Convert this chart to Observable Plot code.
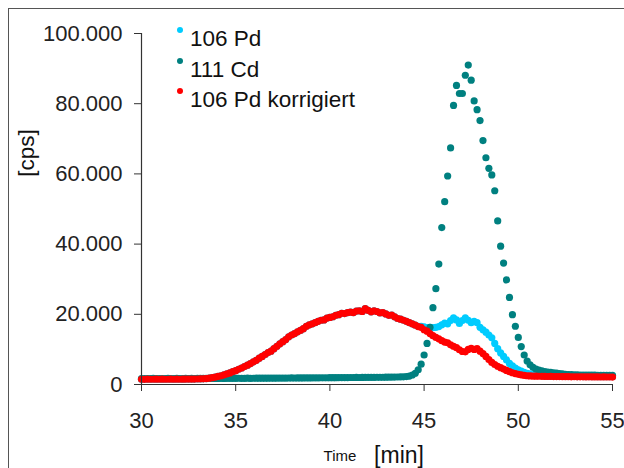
<!DOCTYPE html>
<html>
<head>
<meta charset="utf-8">
<script src="https://cdn.jsdelivr.net/npm/d3@7"></script>
<script src="https://cdn.jsdelivr.net/npm/@observablehq/plot@0.6"></script>
<style>
  body { margin: 0; background: #fff; }
  #wrap { position: relative; width: 624px; height: 468px; overflow: hidden; font-family: 'Liberation Sans', Arial, sans-serif; color: #111; }
  .lab { position: absolute; white-space: nowrap; transform: translate(-50%, -50%); }
  .leg { position: absolute; white-space: nowrap; font-size: 22.5px; transform: translateY(-50%); }
  .dot { position: absolute; width: 6px; height: 6px; border-radius: 50%; transform: translate(-50%, -50%); }
  #frame { position: absolute; left: 8px; top: 8px; width: 1000px; height: 1000px; border-left: 1.5px solid #555; border-top: 1.5px solid #555; }
</style>
</head>
<body>
<div id="wrap"></div>
<script>
// Sampling grid (minutes)
const tStart = 30;
const tStep = 0.15625;

// 106 Pd (raw)
const pd106 = [
1500,1480,1520,1500,1490,1510,1500,1520,1490,1500,
1510,1500,1530,1500,1520,1510,1540,1520,1550,1560,
1580,1620,1700,1800,1950,2100,2300,2500,2750,3000,
3300,3650,3950,4350,4700,5100,5500,5950,6450,6900,
7500,8000,8550,9100,9500,10200,10900,11600,12200,12800,
13600,14100,14500,15000,15400,15900,16600,17000,17300,17600,
18000,18300,18400,18900,19100,19300,19700,19900,20300,20200,
20500,20600,20500,20900,21000,20800,21600,21100,20700,21000,
20800,20400,20500,20100,19700,19800,19300,18800,18600,18300,
18000,17600,17300,16900,16600,16600,16400,16200,16300,16200,
16300,16500,17000,17500,17300,18200,19000,18400,17400,18200,
19000,18300,17600,18000,17600,16300,15600,14900,14100,13300,
11700,10200,9000,8000,7000,6000,5300,4700,4200,3800,
3450,3200,3000,2850,2700,2600,2500,2450,2400,2380,
2350,2330,2340,2300,2310,2290,2280,2300,2270,2280,
2260,2250,2270,2240,2250,2230,2240,2220,2230,2210,2220
];

// 111 Cd
const cd111 = [
1700,1710,1690,1700,1720,1700,1710,1690,1700,1720,
1710,1700,1720,1710,1700,1730,1710,1720,1700,1730,
1720,1740,1720,1730,1750,1730,1740,1760,1740,1750,
1770,1750,1760,1780,1760,1770,1790,1770,1780,1800,
1790,1810,1790,1800,1820,1810,1830,1820,1840,1830,
1850,1860,1850,1870,1860,1880,1890,1880,1900,1910,
1900,1920,1930,1920,1940,1950,1940,1960,1970,1980,
1970,1990,2000,2010,2000,2020,2030,2040,2030,2050,
2060,2070,2060,2080,2100,2090,2110,2130,2150,2200,
2250,2400,2700,3200,4200,5800,8400,11700,16300,21900,
27300,34300,44700,52100,59400,67400,79500,85200,82900,82900,
88100,91000,86700,80800,78300,75200,69500,64600,61600,59700,
55200,46600,39400,34600,29800,24800,19900,16600,13400,10800,
8400,6700,5600,4900,4400,4100,3900,3700,3550,3450,
3350,3250,3100,3000,2920,2850,2800,2760,2730,2700,
2690,2680,2670,2660,2650,2640,2630,2620,2610,2600,2600
];

// 106 Pd korrigiert
const pdKorr = [
1500,1480,1520,1500,1490,1510,1500,1520,1490,1500,
1510,1500,1530,1500,1520,1510,1540,1520,1550,1560,
1580,1620,1700,1800,1950,2100,2300,2500,2750,3000,
3300,3650,3950,4350,4700,5100,5500,5950,6450,6900,
7500,8000,8550,9100,9500,10200,10900,11600,12200,12800,
13600,14100,14500,15000,15400,15900,16600,17000,17300,17600,
18000,18300,18400,18900,19100,19300,19700,19900,20300,20200,
20500,20600,20500,20900,21000,20800,21600,21100,20700,21000,
20800,20400,20500,20100,19700,19800,19300,18800,18600,18300,
18000,17600,17300,16900,16500,16300,15600,15200,14500,13900,
13400,13000,12500,12100,11900,11300,10900,10500,9900,9400,
9300,10000,10300,10000,10200,9500,8800,8000,7100,6300,
5700,5200,4800,4400,4000,3650,3350,3100,2900,2750,
2600,2500,2450,2400,2380,2350,2320,2300,2280,2300,
2260,2250,2270,2230,2220,2240,2200,2210,2190,2200,
2180,2170,2190,2160,2150,2170,2140,2150,2130,2140,2120
];

const xTicks = [30, 35, 40, 45, 50, 55];
const yTicks = [0, 20000, 40000, 60000, 80000, 100000];
const seriesNames = ["106 Pd", "111 Cd", "106 Pd korrigiert"];
const seriesColors = ["#00CCFF", "#008080", "#FF0000"];

const rows = pd106.map((v, i) => ({
  t: tStart + i * tStep, pd: v, cd: cd111[i], korr: pdKorr[i]
}));

const fmt = d => d3.format(",")(d).replace(/,/g, ".");
const font = "'Liberation Sans', Arial, sans-serif";

const chart = Plot.plot({
  width: 624,
  height: 468,
  marginLeft: 141,
  marginRight: 12,
  marginTop: 33,
  marginBottom: 84,
  style: { fontFamily: font, fontSize: "22px", color: "#222", background: "transparent", overflow: "visible" },
  x: { domain: [30, 55] },
  y: { domain: [0, 100000] },
  marks: [
    Plot.dot(rows, { x: "t", y: "pd", r: 3.6, fill: seriesColors[0], stroke: "none" }),
    Plot.dot(rows, { x: "t", y: "cd", r: 3.6, fill: seriesColors[1], stroke: "none" }),
    Plot.dot(rows, { x: "t", y: "korr", r: 3.6, fill: seriesColors[2], stroke: "none" }),
    Plot.ruleX([30], { stroke: "#333", strokeWidth: 1.2 }),
    Plot.ruleY([0], { stroke: "#333", strokeWidth: 1.2 }),
    Plot.axisY({ ticks: yTicks, tickSize: 7, tickPadding: 12, tickFormat: fmt, label: null, fontSize: 22, stroke: "#333" }),
    Plot.axisX({ ticks: xTicks, tickSize: 7, tickPadding: 21, tickFormat: d => String(d), label: null, fontSize: 22, stroke: "#333" })
  ]
});

const wrap = document.getElementById("wrap");
const frame = document.createElement("div");
frame.id = "frame";
wrap.appendChild(frame);
chart.style.position = "absolute";
chart.style.left = "0px";
chart.style.top = "0px";
wrap.appendChild(chart);

function addLabel(text, x, y, size, rot) {
  const d = document.createElement("div");
  d.className = "lab";
  d.textContent = text;
  d.style.left = x + "px";
  d.style.top = y + "px";
  d.style.fontSize = size + "px";
  if (rot) d.style.transform = "translate(-50%, -50%) rotate(-90deg)";
  wrap.appendChild(d);
}
addLabel("[cps]", 27, 153, 22.5, true);
addLabel("Time", 340, 455, 15, false);
addLabel("[min]", 399, 455, 23, false);

const legY = [39, 70, 100];
seriesNames.forEach((name, i) => {
  const dot = document.createElement("div");
  dot.className = "dot";
  dot.style.left = "180px";
  dot.style.top = (legY[i] - 9) + "px";
  dot.style.background = seriesColors[i];
  wrap.appendChild(dot);
  const t = document.createElement("div");
  t.className = "leg";
  t.textContent = name;
  t.style.left = "190px";
  t.style.top = legY[i] + "px";
  wrap.appendChild(t);
});
</script>
</body>
</html>
